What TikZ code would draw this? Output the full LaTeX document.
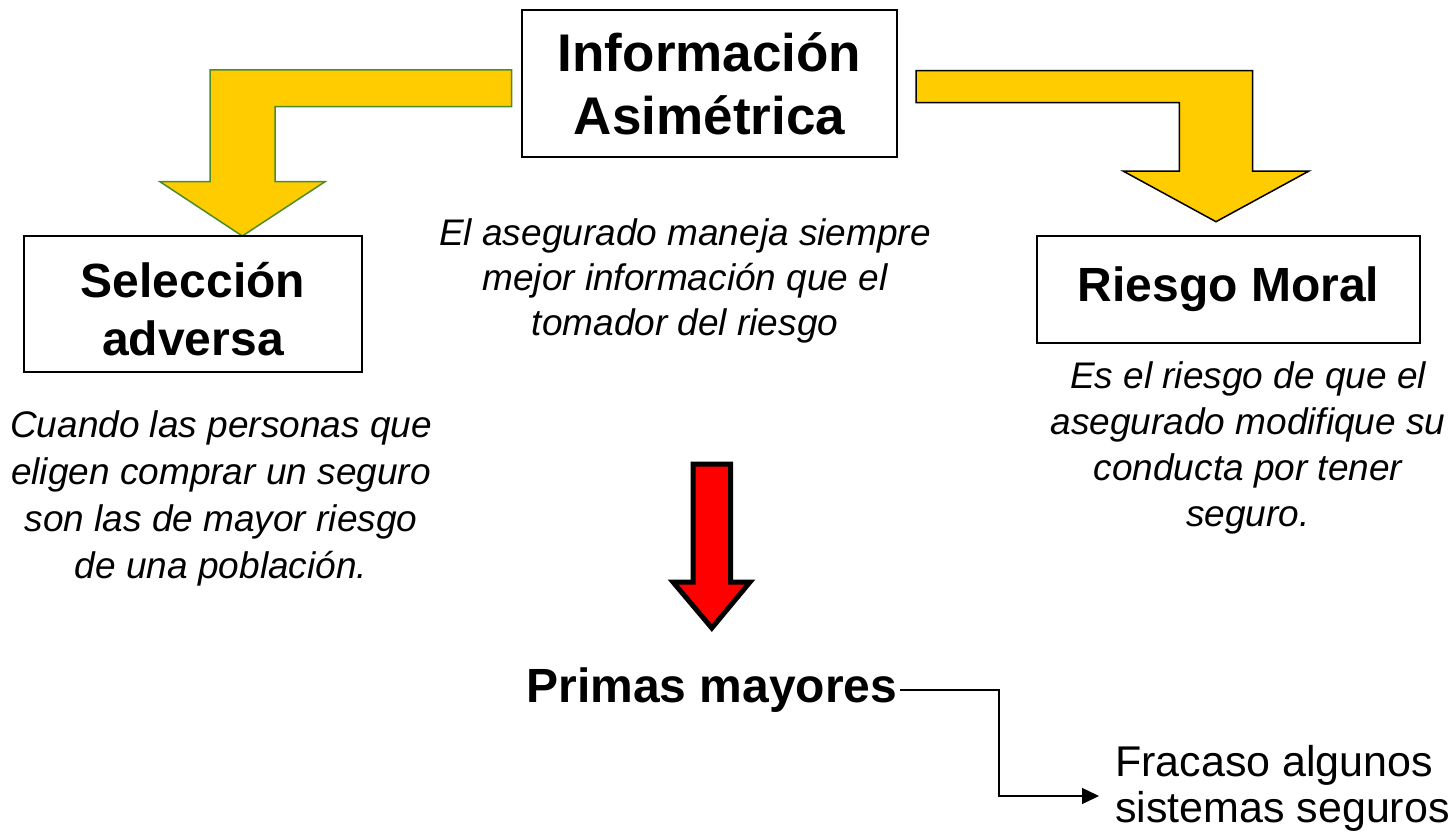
\documentclass[tikz,border=0pt]{standalone}
\usepackage{fontspec}
\setmainfont{Liberation Sans}
\usetikzlibrary{arrows.meta}
\definecolor{yel}{RGB}{255,204,0}
\definecolor{grn}{RGB}{76,140,43}
\definecolor{redf}{RGB}{255,0,0}
\tikzset{
  titlebox/.style={draw=black, line width=2pt, align=center, inner sep=0pt},
  desc/.style={align=center, inner sep=0pt, font=\itshape\fontsize{37}{46}\selectfont},
}
\begin{document}
\begin{tikzpicture}[x=1pt,y=-1pt]
\useasboundingbox (0,0) rectangle (1456,832);
% yellow arrows
\draw[fill=yel, draw=grn, line width=1.5pt, line join=miter]
  (511.7,70) -- (210,70) -- (210,181.7) -- (160,181.7) -- (242.3,236) -- (325,181.7)
  -- (275,181.7) -- (275,106.7) -- (511.7,106.7) -- cycle;
\draw[fill=yel, draw=black, line width=1.5pt, line join=miter]
  (916,70.7) -- (1252.7,70.7) -- (1252.7,171) -- (1309,171) -- (1216,221.7) -- (1123,171)
  -- (1179.3,171) -- (1179.3,102.7) -- (916,102.7) -- cycle;
% red arrow
\draw[fill=redf, draw=black, line width=5pt, line join=miter]
  (693.2,464) -- (730.5,464) -- (730.5,582) -- (750,582) -- (711.8,628) -- (673,582)
  -- (693.2,582) -- cycle;
% boxes
\node[titlebox, minimum width=375pt, minimum height=147pt,
      font=\bfseries\fontsize{53}{63}\selectfont] (info) at (709.5,83.5)
  {Información\\Asimétrica};
\node[titlebox, minimum width=338pt, minimum height=136pt,
      font=\bfseries\fontsize{48}{58}\selectfont] (sel) at (193,304)
  {\rule{0pt}{46pt}Selección\\adversa};
\node[titlebox, minimum width=383pt, minimum height=107pt,
      font=\bfseries\fontsize{48}{58}\selectfont] (rm) at (1228.5,289.5)
  {Riesgo Moral};
% descriptions
\node[desc, font=\itshape\fontsize{37}{45}\selectfont] (dinfo) at (685,281)
  {El asegurado maneja siempre\\mejor información que el\\tomador del riesgo};
\node[desc, font=\itshape\fontsize{37}{47}\selectfont] (dsel) at (221,498)
  {Cuando las personas que\\eligen comprar un seguro\\son las de mayor riesgo\\de una población.};
\node[desc, font=\itshape\fontsize{37}{46}\selectfont] (drm) at (1248,448)
  {Es el riesgo de que el\\asegurado modifique su\\conducta por tener\\seguro.};
% bottom
\node[inner sep=2pt, font=\bfseries\fontsize{48}{58}\selectfont] (primas) at (712,690)
  {Primas mayores};
\node[align=left, inner sep=0pt, anchor=west, font=\fontsize{43}{46}\selectfont] (fra) at (1115,788)
  {Fracaso algunos\\sistemas seguros};
\coordinate (k) at (999,796);
\draw[line width=1.5pt, -{Triangle[length=17pt,width=16pt]}]
  (primas.east) -| (k) -- ([xshift=-16pt]fra.west |- k);
\end{tikzpicture}
\end{document}
